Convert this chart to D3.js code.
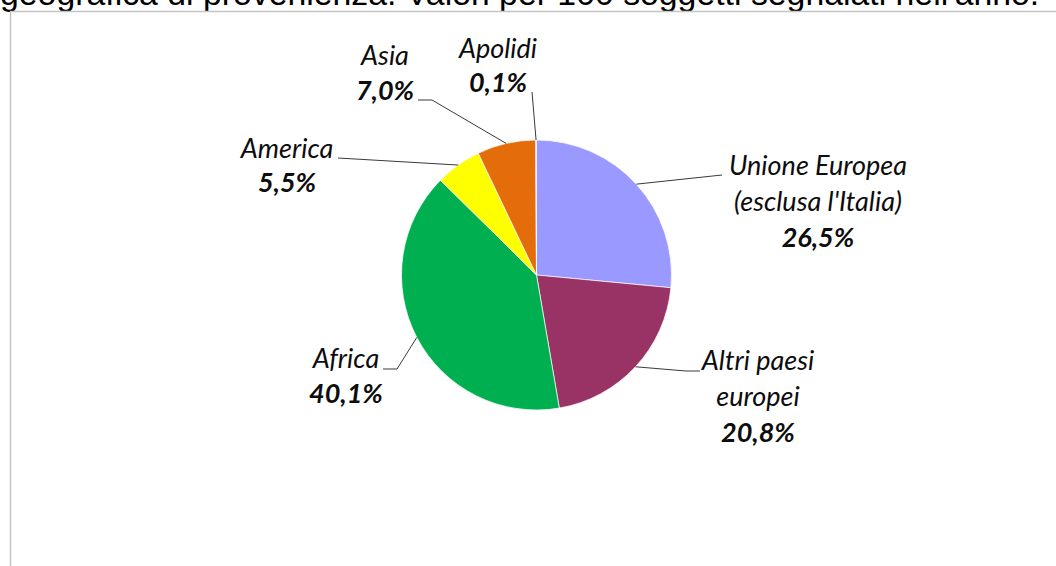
<!DOCTYPE html>
<html>
<head>
<meta charset="utf-8">
<script src="https://cdn.jsdelivr.net/npm/d3@7"></script>
<style>
  html, body { margin: 0; padding: 0; background: #fff; }
  svg { display: block; }
</style>
</head>
<body>
<svg id="chart" width="1056" height="566"></svg>
<script>
// ---- data ----
const categories = ["Unione Europea (esclusa l'Italia)", "Altri paesi europei", "Africa", "America", "Asia", "Apolidi"];
const values = [26.5, 20.8, 40.1, 5.5, 7.0, 0.1];
const valueLabels = ["26,5%", "20,8%", "40,1%", "5,5%", "7,0%", "0,1%"];
const nameLines = [["Unione Europea", "(esclusa l'Italia)"], ["Altri paesi", "europei"], ["Africa"], ["America"], ["Asia"], ["Apolidi"]];
const colors = ["#9999FF", "#993366", "#00B050", "#FFFF00", "#E46C0A", "#7F7F7F"];
const titleText = "geografica di provenienza. Valori per 100 soggetti segnalati nell'anno.";

// ---- layout (label placement, as set manually in the original) ----
const labelLayout = [
  { cx: 818, y0: 175, dy: 36, leader: [[722, 175]] },
  { cx: 758, y0: 370, dy: 36, leader: [[686, 371], [700, 371]] },
  { cx: 346, y0: 368, dy: 35, leader: [[397, 369], [383, 369]] },
  { cx: 287, y0: 158, dy: 34, leader: [[338, 158]] },
  { cx: 385, y0: 65, dy: 35, leader: [[432, 100], [418, 100]] },
  { cx: 498, y0: 58, dy: 34, leader: [[532, 92]] }
];

const svg = d3.select("#chart");
const W = 1056, H = 566;

// title (cropped at the top in the original)
svg.append("text")
  .attr("x", 0).attr("y", 5)
  .attr("font-family", "'Liberation Sans', Arial, sans-serif")
  .attr("font-size", 33.8)
  .attr("fill", "#000")
  .text(titleText);

// chart area border
svg.append("path")
  .attr("d", `M10.5,${H} L10.5,11.5 L${W},11.5`)
  .attr("fill", "none")
  .attr("stroke", "#c4c4c4")
  .attr("stroke-width", 1.5);

const cx = 536.5, cy = 275, R = 135;

const data = categories.map((c, i) => ({ name: c, value: values[i], i }));
const pie = d3.pie().value(d => d.value).sort(null);
const arcs = pie(data);
const arc = d3.arc().innerRadius(0).outerRadius(R);

const g = svg.append("g").attr("transform", `translate(${cx},${cy})`);
g.selectAll("path.slice")
  .data(arcs)
  .join("path")
  .attr("class", "slice")
  .attr("d", arc)
  .attr("fill", d => colors[d.data.i])
  .attr("stroke", "#ffffff")
  .attr("stroke-width", 0.7);

// leader lines
const line = d3.line();
arcs.forEach(a => {
  const mid = (a.startAngle + a.endAngle) / 2;
  const p0 = [cx + R * Math.sin(mid), cy - R * Math.cos(mid)];
  const pts = [p0].concat(labelLayout[a.data.i].leader);
  svg.append("path")
    .attr("d", line(pts))
    .attr("fill", "none")
    .attr("stroke", "#3a3a3a")
    .attr("stroke-width", 1);
});

// labels
arcs.forEach(a => {
  const i = a.data.i;
  const L = labelLayout[i];
  const t = svg.append("text")
    .attr("text-anchor", "middle")
    .attr("font-family", "Lato, 'Open Sans', sans-serif")
    .attr("font-style", "italic")
    .attr("font-size", 27)
    .attr("fill", "#0d0d0d");
  nameLines[i].forEach((ln, k) => {
    t.append("tspan").attr("x", L.cx).attr("y", L.y0 + k * L.dy).text(ln);
  });
  t.append("tspan")
    .attr("x", L.cx)
    .attr("y", L.y0 + nameLines[i].length * L.dy)
    .attr("font-weight", "bold")
    .text(valueLabels[i]);
});
</script>
</body>
</html>
